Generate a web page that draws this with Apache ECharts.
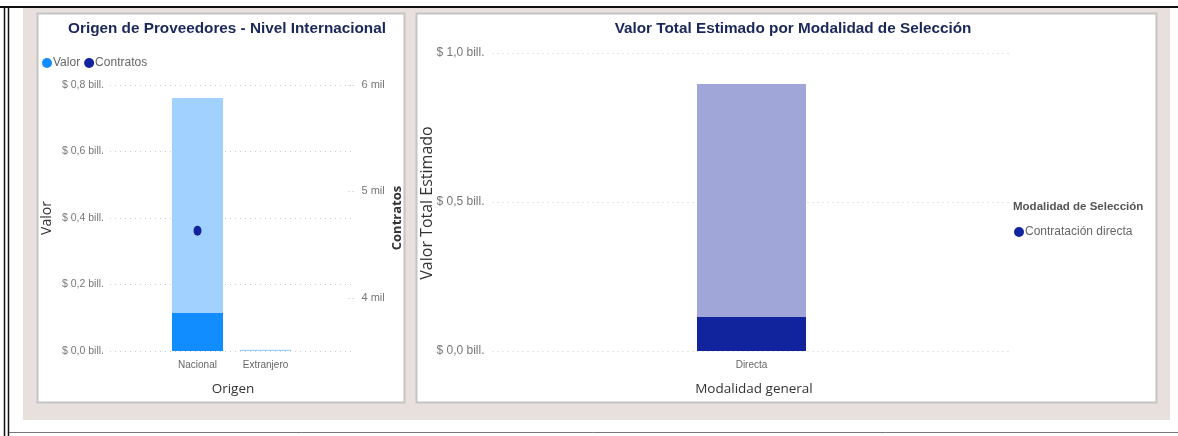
<!DOCTYPE html>
<html>
<head>
<meta charset="utf-8">
<script src="https://cdn.jsdelivr.net/npm/echarts@6/dist/echarts.min.js"></script>
<style>
  html, body { margin: 0; padding: 0; background: #ffffff; }
  #chart { width: 1178px; height: 436px; }
</style>
</head>
<body>
<div id="chart"></div>
<script>
// ---------- Data ----------
const origenCategorias = ['Nacional', 'Extranjero'];
const valorTotalBill = [0.761, 0.004];       // total value (bill.)
const valorResaltadoBill = [0.114, 0];       // highlighted value (bill.)
const contratos = [4630, null];              // contracts count
const valorTicks = [0, 0.2, 0.4, 0.6, 0.8];
const contratosTicks = [4000, 5000, 6000];

const modalidadCategorias = ['Directa'];
const valorEstimadoTotalBill = [0.896];
const valorEstimadoResaltadoBill = [0.114];
const estimadoTicks = [0, 0.5, 1.0];

// ---------- Styling ----------
const NARROW = '"Liberation Sans", Arial, sans-serif';
const SANS = '"Open Sans", "Liberation Sans", sans-serif';
const billFmt = v => '$ ' + v.toFixed(1).replace('.', ',') + ' bill.';
const milFmt = v => (v / 1000) + ' mil';

const chart = echarts.init(document.getElementById('chart'), null, { renderer: 'canvas' });

const option = {
  animation: false,
  backgroundColor: '#ffffff',
  title: [
    { text: 'Origen de Proveedores - Nivel Internacional', left: 222, top: 16, textAlign: 'center',
      textStyle: { fontFamily: NARROW, fontWeight: 'bold', fontSize: 15.3, color: '#1a275a' } },
    { text: 'Valor Total Estimado por Modalidad de Selección', left: 788, top: 16, textAlign: 'center',
      textStyle: { fontFamily: NARROW, fontWeight: 'bold', fontSize: 15.3, color: '#1a275a' } }
  ],
  legend: [
    { data: ['Valor', 'Contratos'], left: 37, top: 52, icon: 'circle', itemWidth: 10, itemHeight: 10,
      itemGap: 4, textStyle: { fontFamily: NARROW, fontSize: 12, color: '#666', padding: [0, 0, 0, -4] } },
    { data: ['Contratación directa'], left: 1009, top: 221, icon: 'circle', itemWidth: 10, itemHeight: 10,
      textStyle: { fontFamily: NARROW, fontSize: 12, color: '#666', padding: [0, 0, 0, -4] } }
  ],
  grid: [
    { left: 163.5, top: 85, width: 136, height: 266 },   // left bars
    { left: 110, top: 85, width: 242, height: 266 },     // left gridlines
    { left: 492.5, top: 53, width: 518, height: 298 }    // right chart
  ],
  xAxis: [
    { type: 'category', gridIndex: 0, data: origenCategorias,
      axisLine: { show: false }, axisTick: { show: false },
      axisLabel: { fontFamily: NARROW, fontSize: 10, color: '#666', margin: 9 } },
    { type: 'value', gridIndex: 1, show: false, min: 0, max: 1 },
    { type: 'category', gridIndex: 2, data: modalidadCategorias,
      axisLine: { show: false }, axisTick: { show: false },
      axisLabel: { fontFamily: NARROW, fontSize: 10, color: '#666', margin: 9 } }
  ],
  yAxis: [
    { type: 'value', gridIndex: 0, min: 0, max: 0.8, show: false },
    { type: 'value', gridIndex: 1, min: 0, max: 0.8, interval: 0.2,
      axisLine: { show: false }, axisTick: { show: false },
      axisLabel: { customValues: valorTicks, formatter: billFmt, fontFamily: NARROW, fontSize: 10.5, color: '#777', margin: 6 },
      splitLine: { lineStyle: { type: [1, 4], color: '#cccccc', width: 1 } } },
    { type: 'value', gridIndex: 0, position: 'right', offset: 49, min: 3500, max: 6000,
      axisLine: { show: false },
      axisTick: { show: true, customValues: contratosTicks, length: 6, inside: false,
        lineStyle: { type: [1, 3], color: '#bbb' } },
      axisLabel: { customValues: contratosTicks, formatter: milFmt, fontFamily: NARROW, fontSize: 11, color: '#777', margin: 13 },
      splitLine: { show: false } },
    { type: 'value', gridIndex: 2, min: 0, max: 1.0, interval: 0.5,
      axisLine: { show: false }, axisTick: { show: false },
      axisLabel: { customValues: estimadoTicks, formatter: billFmt, fontFamily: NARROW, fontSize: 12, color: '#777', margin: 8 },
      splitLine: { lineStyle: { type: [1, 4], color: '#cccccc', width: 1 } } }
  ],
  series: [
    { name: 'Valor total', type: 'bar', xAxisIndex: 0, yAxisIndex: 0, data: valorTotalBill,
      barWidth: 51, barGap: '-100%', itemStyle: { color: '#a0d1ff' }, z: 2 },
    { name: 'Valor', type: 'bar', xAxisIndex: 0, yAxisIndex: 0, data: valorResaltadoBill,
      barWidth: 51, barGap: '-100%', itemStyle: { color: '#118dff' }, z: 3 },
    { name: 'Contratos', type: 'scatter', xAxisIndex: 0, yAxisIndex: 2, data: contratos,
      symbol: 'circle', symbolSize: [8, 10], itemStyle: { color: '#12239e', opacity: 1 }, z: 4 },
    { name: 'Valor estimado total', type: 'bar', xAxisIndex: 2, yAxisIndex: 3, data: valorEstimadoTotalBill,
      barWidth: 109, barGap: '-100%', itemStyle: { color: '#a0a7d8' }, z: 2 },
    { name: 'Contratación directa', type: 'bar', xAxisIndex: 2, yAxisIndex: 3, data: valorEstimadoResaltadoBill,
      barWidth: 109, barGap: '-100%', itemStyle: { color: '#12239e' }, z: 3 }
  ],
  graphic: [
    // page frame
    { type: 'rect', z: -20, shape: { x: 23, y: 8, width: 1147, height: 412 }, style: { fill: '#e8e0dc' } },
    { type: 'line', z: -10, shape: { x1: 0, y1: 7, x2: 1178, y2: 7 }, style: { stroke: '#111', lineWidth: 2 } },
    { type: 'line', z: -10, shape: { x1: 4.5, y1: 6, x2: 4.5, y2: 436 }, style: { stroke: '#111', lineWidth: 1.5 } },
    { type: 'line', z: -10, shape: { x1: 8.5, y1: 6, x2: 8.5, y2: 436 }, style: { stroke: '#111', lineWidth: 1.5 } },
    { type: 'line', z: -10, shape: { x1: 9, y1: 432.5, x2: 1178, y2: 432.5 }, style: { stroke: '#777', lineWidth: 1 } },
    // panels
    { type: 'rect', z: -15, shape: { x: 37.5, y: 13.5, width: 367, height: 389 }, style: { fill: '#fff', stroke: '#c4c4c4', lineWidth: 2 } },
    { type: 'rect', z: -15, shape: { x: 416.5, y: 13.5, width: 740, height: 389 }, style: { fill: '#fff', stroke: '#c4c4c4', lineWidth: 2 } },
    // axis titles
    { type: 'text', x: 47, y: 218, rotation: Math.PI / 2,
      style: { text: 'Valor', fontFamily: SANS, fontSize: 14, fill: '#333', align: 'center', verticalAlign: 'middle' } },
    { type: 'text', x: 397, y: 218, rotation: Math.PI / 2,
      style: { text: 'Contratos', fontFamily: SANS, fontWeight: 'bold', fontSize: 13, fill: '#333', align: 'center', verticalAlign: 'middle' } },
    { type: 'text', x: 233, y: 389,
      style: { text: 'Origen', fontFamily: SANS, fontSize: 13.5, fill: '#333', align: 'center', verticalAlign: 'middle' } },
    { type: 'text', x: 427, y: 203, rotation: Math.PI / 2,
      style: { text: 'Valor Total Estimado', fontFamily: SANS, fontSize: 16, fill: '#333', align: 'center', verticalAlign: 'middle' } },
    { type: 'text', x: 754, y: 389,
      style: { text: 'Modalidad general', fontFamily: SANS, fontSize: 13.5, fill: '#333', align: 'center', verticalAlign: 'middle' } },
    { type: 'text', x: 1013, y: 207,
      style: { text: 'Modalidad de Selección', fontFamily: NARROW, fontWeight: 'bold', fontSize: 11.5, fill: '#555', align: 'left', verticalAlign: 'middle' } }
  ]
};
chart.setOption(option);
</script>
</body>
</html>
